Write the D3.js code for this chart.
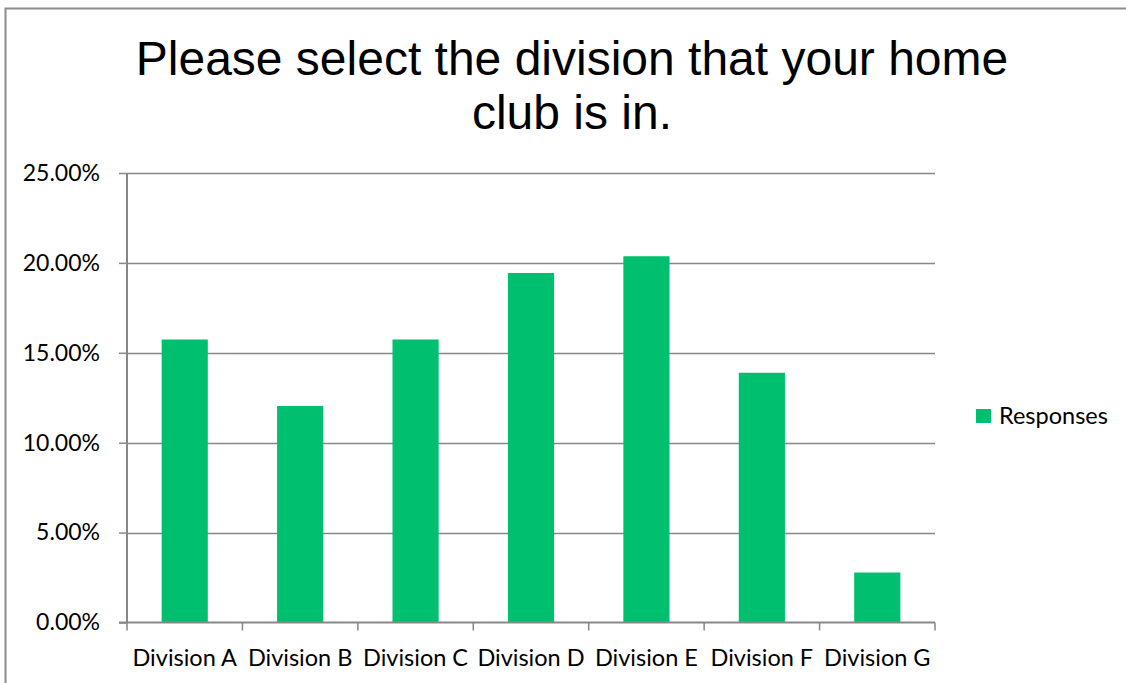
<!DOCTYPE html>
<html>
<head>
<meta charset="utf-8">
<script src="https://cdn.jsdelivr.net/npm/d3@7"></script>
<style>
  html, body { margin: 0; padding: 0; background: #fff; }
  svg { display: block; }
</style>
</head>
<body>
<svg id="chart" width="1126" height="683"></svg>
<script>
// Survey responses per division (share of respondents)
const categories = ["Division A", "Division B", "Division C", "Division D", "Division E", "Division F", "Division G"];
const responses = [0.1574, 0.1204, 0.1574, 0.1944, 0.2037, 0.1389, 0.0278];
const yTicks = [0, 0.05, 0.10, 0.15, 0.20, 0.25];
const titleLines = ["Please select the division that your home", "club is in."];
const seriesName = "Responses";

const svg = d3.select("#chart");
const labelFont = "Lato, 'Open Sans', 'Noto Sans', sans-serif";
const barColor = "#00C06F";
const gridColor = "#878787";

// Chart frame
svg.append("path")
  .attr("d", "M5.5,683 V8.5 H1126")
  .attr("fill", "none")
  .attr("stroke", "#8c8c8c")
  .attr("stroke-width", 2);

// Title
const title = svg.append("text")
  .attr("text-anchor", "middle")
  .attr("font-family", "'Liberation Sans', Arial, sans-serif")
  .attr("font-size", 48)
  .attr("fill", "#000");
titleLines.forEach((t, i) => {
  title.append("tspan").attr("x", 572).attr("y", 75 + i * 54).text(t);
});

const plot = { left: 127, right: 935, top: 173, bottom: 622.5 };

const x = d3.scaleBand()
  .domain(categories)
  .range([plot.left, plot.right])
  .paddingInner(0.6)
  .paddingOuter(0.3);

const y = d3.scaleLinear()
  .domain([0, 0.25])
  .range([plot.bottom, plot.top]);

// Horizontal gridlines
svg.append("g")
  .selectAll("line")
  .data(yTicks.filter(d => d > 0))
  .join("line")
  .attr("x1", plot.left)
  .attr("x2", plot.right)
  .attr("y1", d => Math.round(y(d)) + 0.5)
  .attr("y2", d => Math.round(y(d)) + 0.5)
  .attr("stroke", gridColor)
  .attr("stroke-width", 1.5);

// Bars
svg.append("g")
  .selectAll("rect")
  .data(categories.map((c, i) => ({ c, v: responses[i] })))
  .join("rect")
  .attr("x", d => x(d.c))
  .attr("width", x.bandwidth())
  .attr("y", d => y(d.v))
  .attr("height", d => y(0) - y(d.v))
  .attr("fill", barColor);

// Y axis
const yAxis = d3.axisLeft(y)
  .tickValues(yTicks)
  .tickFormat(d3.format(".2%"))
  .tickSize(8)
  .tickPadding(19);
const gy = svg.append("g")
  .attr("transform", `translate(${plot.left},0)`)
  .call(yAxis);
gy.select(".domain").attr("stroke", gridColor).attr("stroke-width", 2).attr("d", `M0,${plot.top}V${plot.bottom}`);
gy.selectAll(".tick line").attr("stroke", gridColor).attr("stroke-width", 1.5);
gy.selectAll(".tick text")
  .attr("font-family", labelFont)
  .attr("font-size", 23)
  .attr("fill", "#000");

// X axis with boundary tick marks between categories
const gx = svg.append("g")
  .attr("transform", `translate(0,${plot.bottom})`);
gx.append("line")
  .attr("x1", plot.left - 8).attr("x2", plot.right)
  .attr("stroke", gridColor).attr("stroke-width", 2);
const step = x.step();
gx.selectAll("line.tick")
  .data(d3.range(categories.length + 1))
  .join("line")
  .attr("class", "tick")
  .attr("x1", i => plot.left + i * step)
  .attr("x2", i => plot.left + i * step)
  .attr("y1", 0).attr("y2", 8)
  .attr("stroke", gridColor).attr("stroke-width", 1.5);
gx.selectAll("text")
  .data(categories)
  .join("text")
  .attr("x", d => x(d) + x.bandwidth() / 2)
  .attr("y", 43)
  .attr("text-anchor", "middle")
  .attr("font-family", labelFont)
  .attr("font-size", 23.5)
  .attr("fill", "#000")
  .text(d => d);

// Legend
const legend = svg.append("g").attr("transform", "translate(976,409)");
legend.append("rect").attr("width", 15).attr("height", 14).attr("fill", barColor);
legend.append("text")
  .attr("x", 23).attr("y", 15)
  .attr("font-family", labelFont)
  .attr("font-size", 23.5)
  .attr("fill", "#000")
  .text(seriesName);
</script>
</body>
</html>
